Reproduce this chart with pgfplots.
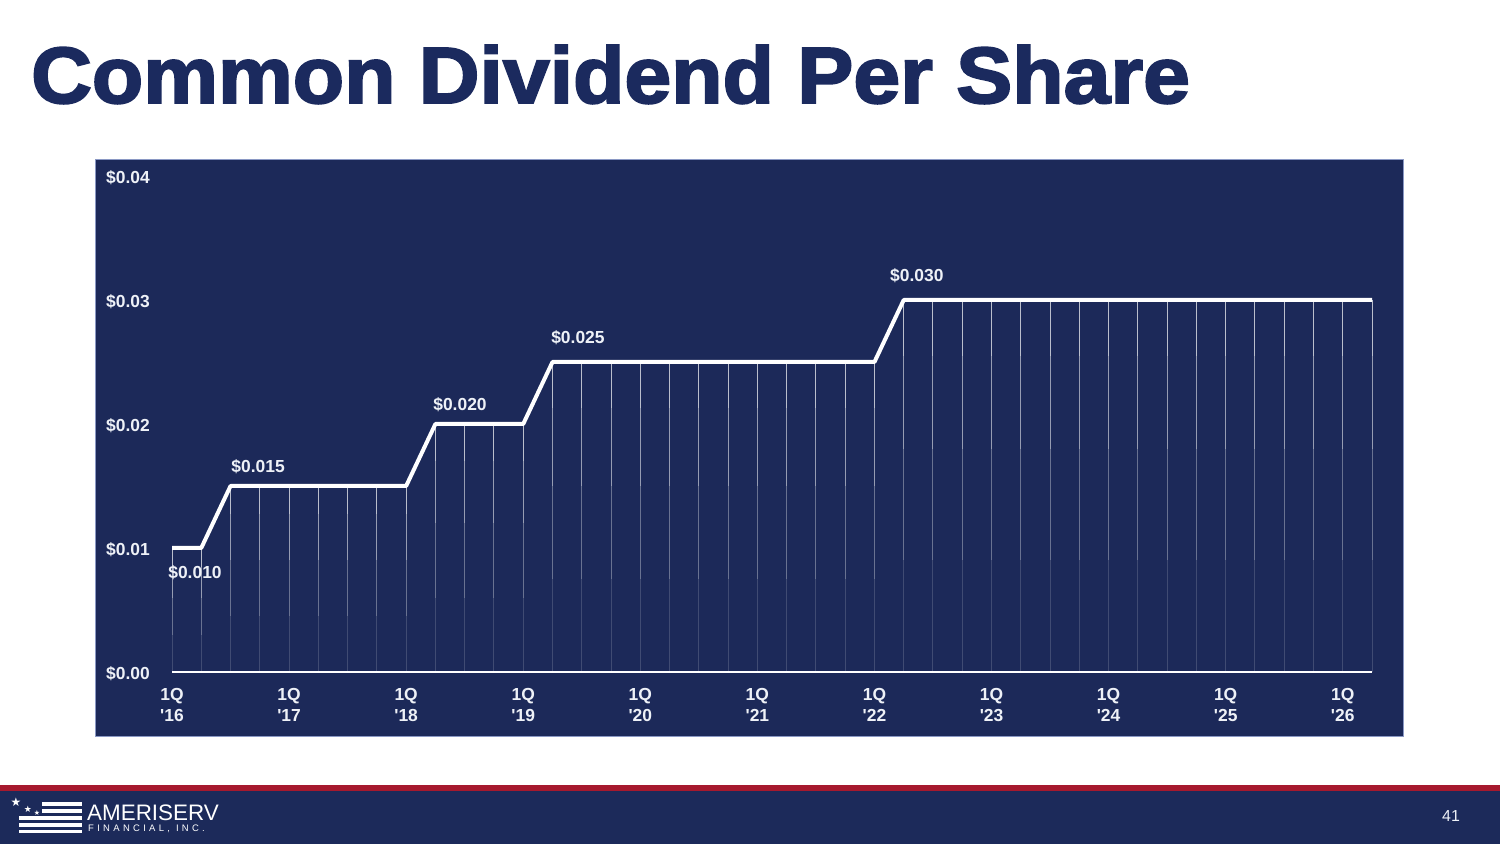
\documentclass[border=0pt]{standalone}
\usepackage{pgfplots}
\pgfplotsset{compat=1.18}
\usepackage{pgfplotstable}
\usepackage{fontspec}
\setmainfont{Liberation Sans}
\newfontfamily\titlefont{Liberation Sans}[UprightFont={* Bold},FakeBold=2.5,FakeStretch=1.055]
\newfontfamily\symfont{DejaVu Sans}
\newfontfamily\logosmall{Liberation Sans}[LetterSpace=35]
\definecolor{navy}{HTML}{1C2959}
\definecolor{titlenavy}{HTML}{1B2A5E}
\definecolor{footnavy}{HTML}{1C2A5A}
\definecolor{footred}{HTML}{A6192E}
\definecolor{labelc}{HTML}{EEF1F7}
\definecolor{panelborder}{HTML}{8A98C4}

\pgfplotstableread{
x y
0 0.010
1 0.010
2 0.015
3 0.015
4 0.015
5 0.015
6 0.015
7 0.015
8 0.015
9 0.020
10 0.020
11 0.020
12 0.020
13 0.025
14 0.025
15 0.025
16 0.025
17 0.025
18 0.025
19 0.025
20 0.025
21 0.025
22 0.025
23 0.025
24 0.025
25 0.030
26 0.030
27 0.030
28 0.030
29 0.030
30 0.030
31 0.030
32 0.030
33 0.030
34 0.030
35 0.030
36 0.030
37 0.030
38 0.030
39 0.030
40 0.030
41 0.030
}\divdata

\begin{document}
\begin{tikzpicture}[x=1bp,y=1bp]
\useasboundingbox (0,0) rectangle (1500,844);
\fill[white] (0,0) rectangle (1500,844);
% title
\node[anchor=base west, inner sep=0, text=titlenavy, font=\titlefont\fontsize{80}{90}\selectfont] at (31,741) {Common Dividend Per Share};
% panel
\fill[navy, draw=panelborder, line width=1bp] (95,107) rectangle (1403,684);
% footer
\fill[footred] (0,53) rectangle (1500,59);
\fill[footnavy] (0,0) rectangle (1500,53);
% logo
\node[text=white, inner sep=0, font=\symfont\fontsize{12}{12}\selectfont] at (16,42) {★};
\node[text=white, inner sep=0, font=\symfont\fontsize{9}{9}\selectfont] at (28,35) {★};
\node[text=white, inner sep=0, font=\symfont\fontsize{7}{7}\selectfont] at (37,31) {★};
\fill[white] (42,38.5) rectangle (82,42);
\fill[white] (42,31.5) rectangle (82,35);
\fill[white] (19,24.5) rectangle (82,28);
\fill[white] (19,17.5) rectangle (82,21);
\fill[white] (19,11.5) rectangle (82,14.5);
\node[anchor=base west, inner sep=0, text=white, font=\fontsize{22.5}{22}\selectfont] at (87,24) {AMERISERV};
\node[anchor=base west, inner sep=0, text=white, font=\logosmall\fontsize{9.5}{10}\selectfont] at (88,13) {FINANCIAL, INC.};
\node[text=labelc, inner sep=0, font=\fontsize{16}{16}\selectfont] at (1451,28) {41};

\begin{axis}[
  at={(172bp,172bp)}, anchor=origin,
  width=1200bp, height=496bp, scale only axis,
  xmin=0, xmax=41, ymin=0, ymax=0.04,
  scaled y ticks=false,
  clip=false,
  axis lines*=left,
  x axis line style={draw=white, line width=1.2bp},
  y axis line style={draw=none},
  major tick length=0,
  xtick={0,4,...,40},
  xticklabels={1Q\\\textquotesingle16,1Q\\\textquotesingle17,1Q\\\textquotesingle18,1Q\\\textquotesingle19,1Q\\\textquotesingle20,1Q\\\textquotesingle21,1Q\\\textquotesingle22,1Q\\\textquotesingle23,1Q\\\textquotesingle24,1Q\\\textquotesingle25,1Q\\\textquotesingle26},
  xticklabel style={align=center, inner sep=0, anchor=north, yshift=-16bp, text=labelc, font=\bfseries\fontsize{17.5}{21}\selectfont},
  ytick={0,0.01,0.02,0.03,0.04},
  yticklabels={\$0.00,\$0.01,\$0.02,\$0.03,\$0.04},
  yticklabel style={anchor=west, inner sep=0, xshift=-66bp, yshift=-1.5bp, text=labelc, font=\bfseries\fontsize{17.5}{20}\selectfont},
]
\addplot[ycomb, draw=white, opacity=0.16, line width=1bp] table[x=x,y=y] {\divdata};
\addplot[draw=none, forget plot, error bars/.cd, y dir=minus, y explicit, error mark=none,
  error bar style={draw=white, line width=1bp, opacity=0.22}] table[x=x,y=y,y error expr=0.7*\thisrow{y}] {\divdata};
\addplot[draw=none, forget plot, error bars/.cd, y dir=minus, y explicit, error mark=none,
  error bar style={draw=white, line width=1bp, opacity=0.3}] table[x=x,y=y,y error expr=0.4*\thisrow{y}] {\divdata};
\addplot[draw=none, forget plot, error bars/.cd, y dir=minus, y explicit, error mark=none,
  error bar style={draw=white, line width=1bp, opacity=0.35}] table[x=x,y=y,y error expr=0.15*\thisrow{y}] {\divdata};
\addplot[white, line width=4bp, line join=round] table[x=x,y=y] {\divdata};
\begin{scope}[every node/.style={text=labelc, font=\bfseries\fontsize{17.5}{20}\selectfont, inner sep=0}]
\node at (axis cs:0.786,0.00798) {\$0.010};
\node at (axis cs:2.94,0.01653) {\$0.015};
\node at (axis cs:9.84,0.02153) {\$0.020};
\node at (axis cs:13.87,0.02694) {\$0.025};
\node at (axis cs:25.45,0.03194) {\$0.030};
\end{scope}
\end{axis}
\end{tikzpicture}
\end{document}
